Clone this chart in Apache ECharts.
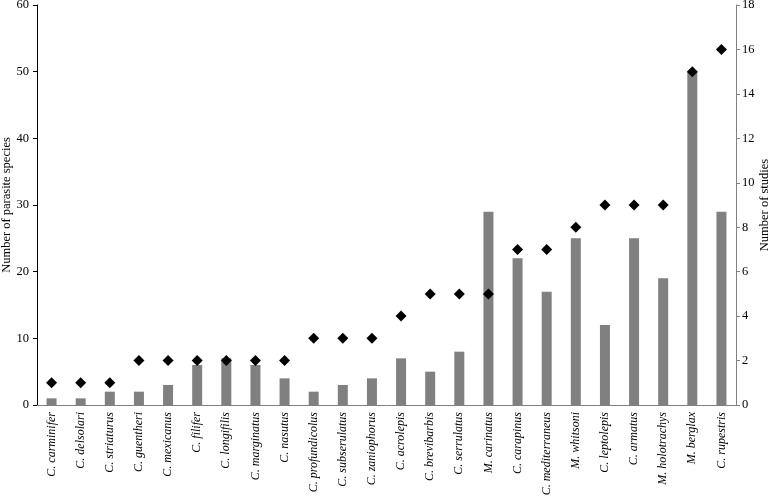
<!DOCTYPE html>
<html>
<head>
<meta charset="utf-8">
<script src="https://cdn.jsdelivr.net/npm/echarts@6/dist/echarts.min.js"></script>
<style>
  html, body { margin: 0; padding: 0; background: #fff; }
  #chart { width: 774px; height: 497px; }
</style>
</head>
<body>
<div id="chart"></div>
<script>
// species on the x axis
const species = [
  'C. carminifer', 'C. delsolari', 'C. striaturus', 'C. guentheri', 'C. mexicanus',
  'C. filifer', 'C. longifilis', 'C. marginatus', 'C. nasutus', 'C. profundicolus',
  'C. subserulatus', 'C. zaniophorus', 'C. acrolepis', 'C. brevibarbis', 'C. serrulatus',
  'M. carinatus', 'C. carapinus', 'C. mediterraneus', 'M. whitsoni', 'C. leptolepis',
  'C. armatus', 'M. holotrachys', 'M. berglax', 'C. rupestris'
];
// bars, left axis
const parasiteSpecies = [1, 1, 2, 2, 3, 6, 7, 6, 4, 2, 3, 4, 7, 5, 8, 29, 22, 17, 25, 12, 25, 19, 50, 29];
// diamonds, right axis
const studies = [1, 1, 1, 2, 2, 2, 2, 2, 2, 3, 3, 3, 4, 5, 5, 5, 7, 7, 8, 9, 9, 9, 15, 16];

const serif = '"Liberation Serif", "DejaVu Serif", serif';

const chart = echarts.init(document.getElementById('chart'));
chart.setOption({
  animation: false,
  grid: { left: 37, right: 38, top: 5, bottom: 92, outerBoundsMode: 'none', containLabel: false },
  xAxis: {
    type: 'category',
    data: species,
    axisLine: { lineStyle: { color: '#808080', width: 1 } },
    axisTick: { show: false },
    axisLabel: {
      rotate: 90,
      interval: 0,
      margin: 7,
      color: '#000',
      fontFamily: serif,
      fontStyle: 'italic',
      fontSize: 12
    }
  },
  yAxis: [
    {
      type: 'value',
      min: 0, max: 60, interval: 10,
      name: 'Number of parasite species',
      nameLocation: 'middle',
      nameGap: 24,
      nameMoveOverlap: false,
      nameTextStyle: { fontFamily: serif, fontSize: 12.5, color: '#000' },
      axisLine: { show: true, lineStyle: { color: '#000' } },
      axisTick: { show: true, length: 4, lineStyle: { color: '#000' } },
      axisLabel: { fontFamily: serif, fontSize: 12.5, color: '#000', margin: 8 },
      splitLine: { show: false }
    },
    {
      type: 'value',
      min: 0, max: 18, interval: 2,
      name: 'Number of studies',
      nameLocation: 'middle',
      nameGap: 22,
      nameRotate: 90,
      nameMoveOverlap: false,
      nameTextStyle: { fontFamily: serif, fontSize: 12.5, color: '#000' },
      axisLine: { show: true, lineStyle: { color: '#808080' } },
      axisTick: { show: true, length: 4, lineStyle: { color: '#808080' } },
      axisLabel: { fontFamily: serif, fontSize: 12.5, color: '#000', margin: 6 },
      splitLine: { show: false }
    }
  ],
  series: [
    {
      type: 'bar',
      data: parasiteSpecies,
      yAxisIndex: 0,
      barWidth: 10,
      itemStyle: { color: '#808080' }
    },
    {
      type: 'scatter',
      data: studies,
      yAxisIndex: 1,
      symbol: 'diamond',
      symbolSize: 11,
      itemStyle: { color: '#000', opacity: 1 },
      z: 5
    }
  ]
});
</script>
</body>
</html>
